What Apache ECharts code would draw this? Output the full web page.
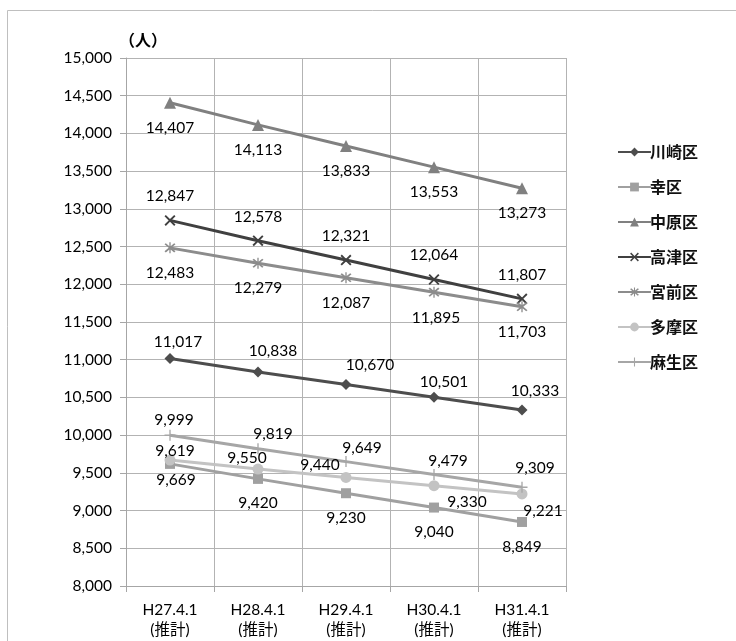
<!DOCTYPE html>
<html>
<head>
<meta charset="utf-8">
<script src="https://cdn.jsdelivr.net/npm/echarts@6/dist/echarts.min.js"></script>
<style>html,body{margin:0;padding:0;background:#fff;}#c{width:736px;height:641px;}</style>
</head>
<body>
<div id="c"></div>
<script>
// ---- data ----
var categories = ['H27.4.1\n(推計)', 'H28.4.1\n(推計)', 'H29.4.1\n(推計)', 'H30.4.1\n(推計)', 'H31.4.1\n(推計)'];
var seriesNames = ['川崎区', '幸区', '中原区', '高津区', '宮前区', '多摩区', '麻生区'];
var kawasaki = [11017, 10838, 10670, 10501, 10333];
var saiwai   = [9619, 9420, 9230, 9040, 8849];
var nakahara = [14407, 14113, 13833, 13553, 13273];
var takatsu  = [12847, 12578, 12321, 12064, 11807];
var miyamae  = [12483, 12279, 12087, 11895, 11703];
var tama     = [9669, 9550, 9440, 9330, 9221];
var asao     = [9999, 9819, 9649, 9479, 9309];
var yTicks = {min: 8000, max: 15000, interval: 500};
var unitLabel = '（人）';

// ---- styles (label offsets relative to each point, in px) ----
var FONT = 'Lato, "Noto Sans CJK JP", sans-serif';
var X_SHAPE = 'path://M0,1.2L1.2,0L5,3.8L8.8,0L10,1.2L6.2,5L10,8.8L8.8,10L5,6.2L1.2,10L0,8.8L3.8,5Z';
var STAR_SHAPE = 'path://M0,1.2L1.2,0L5,3.8L8.8,0L10,1.2L6.2,5L10,8.8L8.8,10L5,6.2L1.2,10L0,8.8L3.8,5Z M4.4,-1L5.6,-1L5.6,11L4.4,11Z';
var PLUS_SHAPE = 'path://M4.4,0L5.6,0L5.6,10L4.4,10Z M0,4.4L10,4.4L10,5.6L0,5.6Z';
var styles = [
  {color: '#4d4d4d', symbol: 'diamond', size: 11, off: [[8,-16],[15,-21],[24,-20],[10,-15],[13,-19]]},
  {color: '#a0a0a0', symbol: 'rect', size: 10, off: [[5,-13],[0,24],[0,25],[0,24],[0,25]]},
  {color: '#808080', symbol: 'triangle', size: 12, off: [[0,25],[0,25],[0,25],[0,25],[0,25]]},
  {color: '#404040', symbol: X_SHAPE, size: 11, off: [[0,-24],[0,-24],[0,-24],[0,-24],[0,-24]]},
  {color: '#8c8c8c', symbol: STAR_SHAPE, size: 11, off: [[0,25],[0,25],[0,25],[2,26],[0,25]]},
  {color: '#c3c3c3', symbol: 'circle', size: 11, off: [[6,20],[-11,-11],[-26,-12],[33,16],[21,17]]},
  {color: '#a6a6a6', symbol: PLUS_SHAPE, size: 11, off: [[4,-15],[15,-15],[16,-14],[14,-13],[13,-19]]}
];
var allData = [kawasaki, saiwai, nakahara, takatsu, miyamae, tama, asao];

function fmt(v){ return String(v).replace(/\B(?=(\d{3})+(?!\d))/g, ','); }

var series = seriesNames.map(function(name, i){
  var st = styles[i];
  return {
    name: name,
    type: 'line',
    symbol: st.symbol,
    symbolSize: st.size,
    lineStyle: {color: st.color, width: 3},
    itemStyle: {color: st.color},
    emphasis: {disabled: true},
    data: allData[i].map(function(v, j){
      return {value: v, label: {offset: st.off[j]}};
    }),
    label: {
      show: true, position: 'inside', align: 'center', verticalAlign: 'middle',
      color: '#000', fontSize: 15.5, fontFamily: FONT,
      formatter: function(p){ return fmt(p.value); }
    }
  };
});

var chart = echarts.init(document.getElementById('c'), null, {renderer: 'canvas'});
chart.setOption({
  animation: false,
  backgroundColor: '#fff',
  graphic: [
    {type: 'rect', shape: {x: 7.5, y: 10.5, width: 900, height: 900}, style: {fill: 'none', stroke: '#bfbfbf', lineWidth: 1}},
    {type: 'text', left: 119, top: 32, style: {text: unitLabel, font: 'bold 16px "Noto Sans CJK JP"', fill: '#000'}}
  ],
  grid: {left: 126, right: 170, top: 58, bottom: 55, containLabel: false},
  legend: {
    orient: 'vertical', left: 612, top: 139,
    itemWidth: 33, itemHeight: 11, itemGap: 19,
    textStyle: {fontSize: 16, fontWeight: 'bold', fontFamily: '"Noto Sans CJK JP"', color: '#111', padding: [0,0,0,-6]},
    data: seriesNames
  },
  xAxis: {
    type: 'category', data: categories, boundaryGap: true,
    axisLine: {show: true, lineStyle: {color: '#a6a6a6', width: 1}},
    axisTick: {show: true, alignWithLabel: false, length: 6, lineStyle: {color: '#a6a6a6'}},
    splitLine: {show: true, lineStyle: {color: '#b3b3b3', width: 1}},
    axisLabel: {color: '#000', fontSize: 15.5, fontFamily: FONT, lineHeight: 20, margin: 14}
  },
  yAxis: {
    type: 'value', min: yTicks.min, max: yTicks.max, interval: yTicks.interval,
    axisLine: {show: true, lineStyle: {color: '#a6a6a6', width: 1}},
    axisTick: {show: true, length: 6, lineStyle: {color: '#a6a6a6'}},
    splitLine: {show: true, lineStyle: {color: '#b3b3b3', width: 1}},
    axisLabel: {color: '#000', fontSize: 15.5, fontFamily: FONT, margin: 14, formatter: function(v){ return fmt(v); }}
  },
  series: series
});
</script>
</body>
</html>
